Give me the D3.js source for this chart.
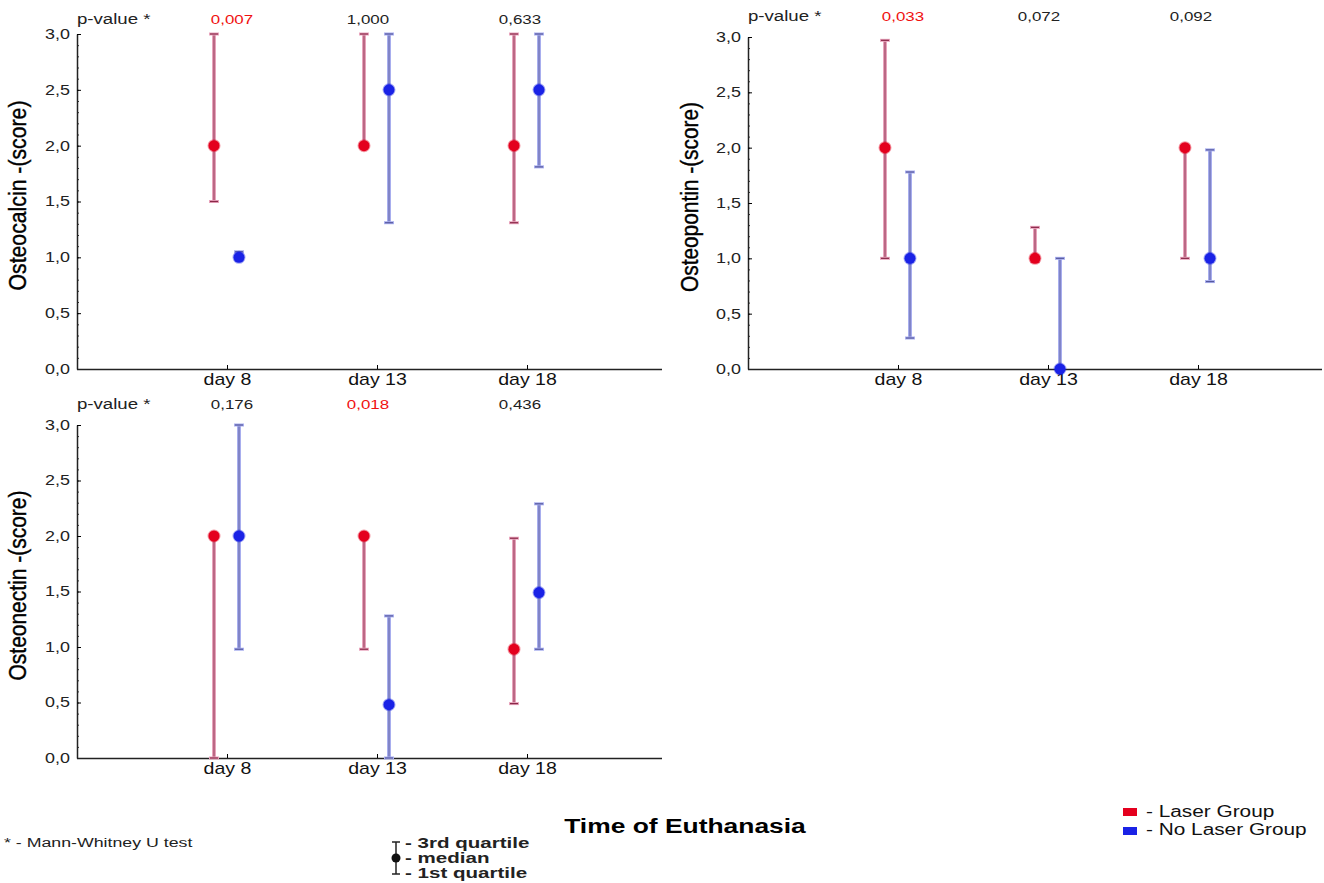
<!DOCTYPE html>
<html>
<head>
<meta charset="utf-8">
<script src="https://cdn.jsdelivr.net/npm/d3@7"></script>
<style>
  body { margin: 0; background: #fff; }
  text { font-family: "Liberation Sans", Arial, sans-serif; }
</style>
</head>
<body>
<svg id="canvas"></svg>
<script>
// Categories (time of euthanasia)
const days = ["day 8", "day 13", "day 18"];
const yTicks = [0, 0.5, 1, 1.5, 2, 2.5, 3];

// Osteocalcin: [1st quartile, median, 3rd quartile] per day
const calcinLaser   = [[1.5, 2.0, 3.0], [2.0, 2.0, 3.0], [1.31, 2.0, 3.0]];
const calcinNoLaser = [[0.98, 1.0, 1.05], [1.31, 2.5, 3.0], [1.81, 2.5, 3.0]];
const calcinP = ["0,007", "1,000", "0,633"];
const calcinSig = [true, false, false];

// Osteopontin
const pontinLaser   = [[1.0, 2.0, 2.97], [0.97, 1.0, 1.28], [1.0, 2.0, 2.0]];
const pontinNoLaser = [[0.28, 1.0, 1.78], [0.0, 0.0, 1.0], [0.79, 1.0, 1.98]];
const pontinP = ["0,033", "0,072", "0,092"];
const pontinSig = [true, false, false];

// Osteonectin
const nectinLaser   = [[0.0, 2.0, 2.0], [0.98, 2.0, 2.0], [0.49, 0.98, 1.98]];
const nectinNoLaser = [[0.98, 2.0, 3.0], [0.0, 0.48, 1.28], [0.98, 1.49, 2.29]];
const nectinP = ["0,176", "0,018", "0,436"];
const nectinSig = [false, true, false];

const groups = ["Laser Group", "No Laser Group"];
const quartileKey = ["- 3rd quartile", "- median", "- 1st quartile"];

const W = 1324, H = 883;
const svg = d3.select("#canvas").attr("width", W).attr("height", H);

const fmt = d => d.toFixed(1).replace(".", ",");

// the original picture is stretched sideways, so stretch text to match
const widen = (sel, f) => sel.each(function () {
  const w = this.getComputedTextLength();
  d3.select(this).attr("textLength", w * f).attr("lengthAdjust", "spacingAndGlyphs");
});

// style for each group: dot, outer halo of bar, dark core
const groupStyle = [
  { dot: "#e4001e", halo: "#e8a4bc", core: "#8a2848", dx: -13 },
  { dot: "#1a22e6", halo: "#a8aeee", core: "#56589e", dx: 12 }
];
// small shifts of the p-value labels from each day tick
const pShift = [5, -9, -7];

const panels = [
  { label: "Osteocalcin -(score)", left: 77, right: 662, top: 34, bottom: 369, pY: 24,
    data: [calcinLaser, calcinNoLaser], p: calcinP, sig: calcinSig, labelX: 20 },
  { label: "Osteopontin -(score)", left: 748, right: 1322, top: 37, bottom: 369, pY: 21,
    data: [pontinLaser, pontinNoLaser], p: pontinP, sig: pontinSig, labelX: 692 },
  { label: "Osteonectin -(score)", left: 77, right: 662, top: 425, bottom: 758, pY: 409,
    data: [nectinLaser, nectinNoLaser], p: nectinP, sig: nectinSig, labelX: 20 }
];

panels.forEach(pn => {
  const g = svg.append("g");
  const y = d3.scaleLinear().domain([0, 3]).range([pn.bottom, pn.top]);
  // category index 1..3, one step = 150px
  const x = d3.scaleLinear().domain([0, 1]).range([pn.left, pn.left + 150]);

  // minor ticks every 0.1
  const minor = d3.range(0, 31).map(i => i / 10);
  g.append("g")
    .attr("transform", `translate(${pn.left},0)`)
    .call(d3.axisLeft(y).tickValues(minor).tickSize(-2).tickFormat(""))
    .call(a => a.select(".domain").remove())
    .selectAll("line").attr("stroke", "#333");

  const yAxis = g.append("g")
    .attr("transform", `translate(${pn.left},0)`)
    .call(d3.axisLeft(y).tickValues(yTicks).tickSize(-4).tickSizeOuter(0).tickPadding(7).tickFormat(fmt));
  yAxis.select(".domain").attr("stroke", "#222").attr("stroke-width", 1.5);
  yAxis.selectAll("text").attr("font-size", 14).attr("fill", "#222")
    .attr("font-family", "Liberation Sans, Arial, sans-serif")
    .call(widen, 1.28);

  const xAxis = g.append("g")
    .attr("transform", `translate(0,${pn.bottom})`)
    .call(d3.axisBottom(x).tickValues([1, 2, 3]).tickSize(-4).tickSizeOuter(0).tickPadding(4)
      .tickFormat(d => days[d - 1]));
  xAxis.select(".domain").attr("d", `M${pn.left},0.5H${pn.right}`)
    .attr("stroke", "#222").attr("stroke-width", 1.5);
  xAxis.selectAll("text").attr("font-size", 17).attr("fill", "#111")
    .attr("font-family", "Liberation Sans, Arial, sans-serif")
    .call(widen, 1.15);

  // y label
  g.append("text")
    .attr("transform", `translate(${pn.labelX},${(pn.top + pn.bottom) / 2 - 6}) rotate(-90)`)
    .attr("text-anchor", "middle")
    .attr("dominant-baseline", "middle")
    .attr("font-size", 23)
    .attr("textLength", 190).attr("lengthAdjust", "spacingAndGlyphs")
    .attr("stroke", "#000").attr("stroke-width", 0.4)
    .text(pn.label);

  // p-values row
  g.append("text").attr("x", pn.left).attr("y", pn.pY)
    .attr("font-size", 14).attr("fill", "#222").text("p-value *")
    .call(widen, 1.33);
  g.selectAll(".pval").data(pn.p).enter().append("text")
    .attr("x", (d, i) => x(i + 1) + pShift[i])
    .attr("y", pn.pY)
    .attr("text-anchor", "middle")
    .attr("font-size", 13)
    .attr("fill", (d, i) => pn.sig[i] ? "#f01010" : "#222")
    .text(d => d)
    .call(widen, 1.3);

  // error bars + medians
  pn.data.forEach((series, s) => {
    const st = groupStyle[s];
    const bars = g.append("g");
    series.forEach((q, i) => {
      const cx = x(i + 1) + st.dx;
      const b = bars.append("g");
      b.append("line").attr("x1", cx).attr("x2", cx).attr("y1", y(q[0])).attr("y2", y(q[2]))
        .attr("stroke", st.halo).attr("stroke-width", 4);
      b.append("line").attr("x1", cx).attr("x2", cx).attr("y1", y(q[0])).attr("y2", y(q[2]))
        .attr("stroke", st.core).attr("stroke-width", 1.2).attr("stroke-opacity", 0.8);
      [q[0], q[2]].forEach(v => {
        b.append("line").attr("x1", cx - 5).attr("x2", cx + 5).attr("y1", y(v)).attr("y2", y(v))
          .attr("stroke", st.halo).attr("stroke-width", 3);
        b.append("line").attr("x1", cx - 4).attr("x2", cx + 4).attr("y1", y(v)).attr("y2", y(v))
          .attr("stroke", st.core).attr("stroke-width", 1.2);
      });
      b.append("circle").attr("cx", cx).attr("cy", y(q[1])).attr("r", 5.5)
        .attr("fill", st.dot).attr("stroke", st.dot).attr("stroke-opacity", 0.4).attr("stroke-width", 2);
    });
  });
});

// Common x title
svg.append("text").attr("x", 685).attr("y", 833).attr("text-anchor", "middle")
  .attr("font-size", 20).attr("font-weight", "bold").text("Time of Euthanasia")
  .call(widen, 1.32);

svg.append("text").attr("x", 4).attr("y", 847).attr("font-size", 12.5).attr("fill", "#222")
  .text("* - Mann-Whitney U test")
  .call(widen, 1.42);

// quartile key
const kx = 396;
const key = svg.append("g");
key.append("line").attr("x1", kx).attr("x2", kx).attr("y1", 842).attr("y2", 874).attr("stroke", "#222").attr("stroke-width", 1.5);
key.append("line").attr("x1", kx - 4).attr("x2", kx + 4).attr("y1", 842).attr("y2", 842).attr("stroke", "#222").attr("stroke-width", 1.5);
key.append("line").attr("x1", kx - 4).attr("x2", kx + 4).attr("y1", 874).attr("y2", 874).attr("stroke", "#222").attr("stroke-width", 1.5);
key.append("circle").attr("cx", kx).attr("cy", 858).attr("r", 4.5).attr("fill", "#111");
quartileKey.forEach((t, i) => {
  key.append("text").attr("x", kx + 9).attr("y", 848 + i * 15).attr("font-size", 15)
    .attr("font-weight", "bold").attr("fill", "#222").text(t)
    .call(widen, 1.37);
});

// group legend
const legColors = [groupStyle[0].dot, groupStyle[1].dot];
const leg = svg.append("g");
groups.forEach((gname, i) => {
  leg.append("rect").attr("x", 1123).attr("y", 808 + i * 19).attr("width", 14).attr("height", 8)
    .attr("fill", legColors[i]);
  leg.append("text").attr("x", 1146).attr("y", 817 + i * 18).attr("font-size", 16).attr("fill", "#111")
    .text("- " + gname)
    .call(widen, 1.3);
});
</script>
</body>
</html>
